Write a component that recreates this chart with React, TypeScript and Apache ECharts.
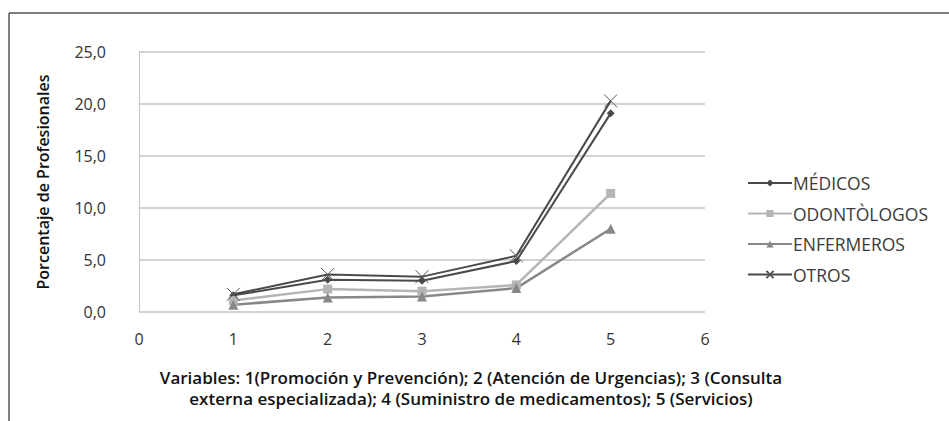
import React, { useEffect, useRef } from "react";
import * as echarts from "echarts";

const xValues = [1, 2, 3, 4, 5];
const medicos = [1.6, 3.1, 3.0, 4.9, 19.1];
const odontologos = [1.1, 2.2, 2.0, 2.6, 11.4];
const enfermeros = [0.7, 1.4, 1.5, 2.3, 8.0];
const otros = [1.7, 3.6, 3.4, 5.4, 20.3];
const seriesNames = ["MÉDICOS", "ODONTÒLOGOS", "ENFERMEROS", "OTROS"];
const xTitleLines = [
  "Variables: 1(Promoción y Prevención); 2 (Atención de Urgencias); 3 (Consulta",
  "externa especializada); 4 (Suministro de medicamentos); 5 (Servicios)",
];
const yTitle = "Porcentaje de Profesionales";

const pair = (vals: number[]) => vals.map((v, i) => [xValues[i], v]);

export default function App() {
  const ref = useRef<HTMLDivElement>(null);
  useEffect(() => {
    const chart = echarts.init(ref.current!, null, { renderer: "svg" });
    const font = "'Open Sans', 'DejaVu Sans', sans-serif";
    const titleFont = "600 17px 'Open Sans', 'DejaVu Sans', sans-serif";
    chart.setOption({
      animation: false,
      backgroundColor: "#ffffff",
      textStyle: { fontFamily: font },
      grid: { left: 139, right: 244, top: 52, bottom: 109 },
      xAxis: {
        type: "value",
        min: 0,
        max: 6,
        interval: 1,
        axisLine: { show: false },
        axisTick: { show: false },
        splitLine: { show: false },
        axisLabel: { color: "#333", fontSize: 16, margin: 19, fontFamily: font },
      },
      yAxis: {
        type: "value",
        min: 0,
        max: 25,
        interval: 5,
        axisLine: { show: true, lineStyle: { color: "#c4c4c4", width: 1 } },
        axisTick: { show: false },
        splitLine: { show: true, lineStyle: { color: "#c4c4c4", width: 1.5 } },
        axisLabel: {
          color: "#333",
          fontSize: 16,
          margin: 33,
          fontFamily: font,
          formatter: (v: number) => v.toFixed(1).replace(".", ","),
        },
        name: yTitle,
        nameLocation: "middle",
        nameGap: 88,
        nameTextStyle: { color: "#111", fontSize: 16, fontWeight: 600, fontFamily: font },
      },
      legend: {
        orient: "vertical",
        left: 742,
        top: 169,
        itemGap: 12.5,
        itemWidth: 44,
        itemHeight: 9,
        textStyle: { color: "#3a3a3a", fontSize: 17.5, fontFamily: font, padding: [0, 0, 0, -4] },
        data: seriesNames,
      },
      series: [
        {
          name: seriesNames[0],
          type: "line",
          data: pair(medicos),
          symbol: "diamond",
          symbolSize: 8,
          lineStyle: { color: "#4a4a4a", width: 2 },
          itemStyle: { color: "#4a4a4a" },
        },
        {
          name: seriesNames[1],
          type: "line",
          data: pair(odontologos),
          symbol: "rect",
          symbolSize: 9,
          lineStyle: { color: "#b5b5b5", width: 2.5 },
          itemStyle: { color: "#b5b5b5" },
        },
        {
          name: seriesNames[2],
          type: "line",
          data: pair(enfermeros),
          symbol: "triangle",
          symbolSize: 10,
          lineStyle: { color: "#888888", width: 2.5 },
          itemStyle: { color: "#888888" },
        },
        {
          name: seriesNames[3],
          type: "line",
          data: pair(otros),
          symbol: "path://M0,0L10,10M10,0L0,10",
          symbolSize: 13,
          lineStyle: { color: "#4a4a4a", width: 2 },
          itemStyle: { color: "none", borderColor: "#555555", borderWidth: 1 },
        },
      ],
      graphic: [
        {
          type: "line",
          shape: { x1: 9, y1: 13, x2: 949, y2: 13 },
          style: { stroke: "#555", lineWidth: 1.5 },
        },
        {
          type: "line",
          shape: { x1: 9, y1: 13, x2: 9, y2: 421 },
          style: { stroke: "#555", lineWidth: 1.5 },
        },
        {
          type: "text",
          x: 471,
          y: 377,
          style: {
            text: xTitleLines[0],
            fill: "#111",
            font: titleFont,
            align: "center",
            verticalAlign: "middle",
          },
        },
        {
          type: "text",
          x: 471,
          y: 398,
          style: {
            text: xTitleLines[1],
            fill: "#111",
            font: titleFont,
            align: "center",
            verticalAlign: "middle",
          },
        },
      ],
    });
    return () => chart.dispose();
  }, []);
  return <div ref={ref} style={{ width: 949, height: 421, position: "absolute", left: 0, top: 0 }} />;
}
